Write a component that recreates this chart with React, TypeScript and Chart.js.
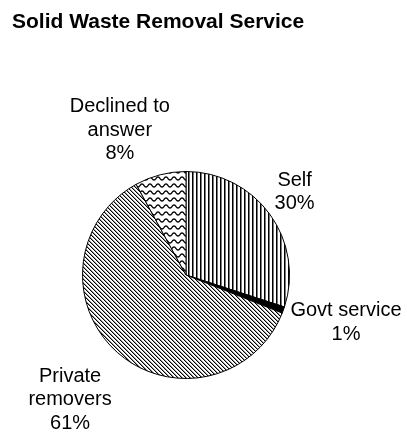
import React, { useEffect, useRef } from "react";
import { Chart, registerables } from "chart.js";

Chart.register(...registerables);

const title = "Solid Waste Removal Service";
const categories = ["Self", "Govt service", "Private removers", "Declined to answer"];
const values = [30, 1, 61, 8];
const labelLines = [["Self", "30%"], ["Govt service", "1%"], ["Private", "removers", "61%"], ["Declined to", "answer", "8%"]];
const labelNudges = [[-1, -3], [-1, -1], [-12, 10], [-25, 0]];

function makePattern(kind: string): CanvasPattern | string {
  const c = document.createElement("canvas");
  const ctx = c.getContext("2d")!;
  if (kind === "vertical") {
    c.width = 4; c.height = 4;
    ctx.fillStyle = "#fff"; ctx.fillRect(0, 0, 4, 4);
    ctx.fillStyle = "#000"; ctx.fillRect(0, 0, 1, 4);
    ctx.fillStyle = "#777"; ctx.fillRect(1, 0, 1, 4);
  } else if (kind === "diag") {
    const n = 4;
    c.width = n; c.height = n;
    ctx.fillStyle = "#fff"; ctx.fillRect(0, 0, n, n);
    for (let i = 0; i < n; i++) {
      ctx.fillStyle = "#000"; ctx.fillRect(i, i, 1, 1);
      ctx.fillStyle = "#999"; ctx.fillRect((i + 1) % n, i, 1, 1);
    }
  } else if (kind === "wave") {
    c.width = 8; c.height = 7;
    ctx.fillStyle = "#fff"; ctx.fillRect(0, 0, 8, 7);
    ctx.strokeStyle = "#000"; ctx.lineWidth = 1.3;
    for (const off of [-7, 0, 7]) {
      ctx.beginPath();
      for (let x = -1; x <= 9; x += 0.5) {
        const y = 3.5 + off + 1.6 * Math.sin((2 * Math.PI * x) / 8);
        if (x === -1) ctx.moveTo(x, y); else ctx.lineTo(x, y);
      }
      ctx.stroke();
    }
  } else {
    return "#000";
  }
  return ctx.createPattern(c, "repeat")!;
}

const labelPlugin = {
  id: "outsideLabels",
  afterDraw(chart: any) {
    const ctx = chart.ctx;
    ctx.save();
    ctx.fillStyle = "#000";
    ctx.font = "bold 21px 'Liberation Sans', Arial, sans-serif";
    ctx.textAlign = "left";
    ctx.textBaseline = "alphabetic";
    ctx.fillText(title, 12, 28);

    const meta = chart.getDatasetMeta(0);
    ctx.font = "20px 'Liberation Sans', Arial, sans-serif";
    ctx.textAlign = "center";
    const LH = 23.5;
    meta.data.forEach((arc: any, i: number) => {
      const { x, y, startAngle, endAngle, outerRadius } = arc.getProps(["x", "y", "startAngle", "endAngle", "outerRadius"], true);
      const mid = (startAngle + endAngle) / 2;
      const dx = Math.cos(mid), dy = Math.sin(mid);
      const ax = x + dx * (outerRadius + 12);
      const ay = y + dy * (outerRadius + 12);
      const lines = labelLines[i];
      let w = 0;
      lines.forEach((l) => { w = Math.max(w, ctx.measureText(l).width); });
      const h = lines.length * LH;
      const cx = ax + dx * w / 2 + labelNudges[i][0];
      const cy = ay + dy * h / 2 + labelNudges[i][1];
      lines.forEach((l, k) => {
        const by = cy + (k - (lines.length - 1) / 2) * LH + 7;
        ctx.fillText(l, cx, by);
      });
    });
    ctx.restore();
  },
};

export default function App() {
  const ref = useRef<HTMLCanvasElement>(null);
  useEffect(() => {
    const canvas = ref.current!;
    const chart = new Chart(canvas, {
      type: "pie",
      data: {
        labels: categories,
        datasets: [
          {
            data: values,
            backgroundColor: [makePattern("vertical"), makePattern("solid"), makePattern("diag"), makePattern("wave")] as any,
            borderColor: "#000",
            borderWidth: 1,
          },
        ],
      },
      options: {
        responsive: false,
        animation: false,
        layout: { padding: { left: 82, right: 117, top: 171, bottom: 54 } },
        plugins: { legend: { display: false }, tooltip: { enabled: false }, title: { display: false } },
      },
      plugins: [labelPlugin],
    });
    return () => chart.destroy();
  }, []);
  return (
    <div style={{ position: "absolute", left: 0, top: 0, width: 407, height: 433, background: "#fff" }}>
      <canvas ref={ref} width={407} height={433} style={{ display: "block" }} />
    </div>
  );
}
